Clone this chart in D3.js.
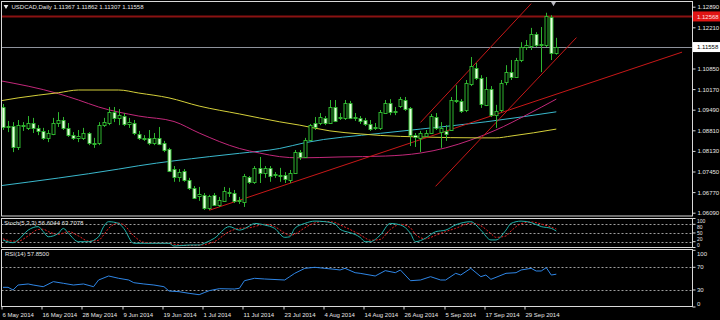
<!DOCTYPE html>
<html><head><meta charset="utf-8">
<script src="https://cdn.jsdelivr.net/npm/d3@7"></script>
<style>
body{margin:0;background:#000;overflow:hidden}
svg{display:block}
text{font-family:"Liberation Sans",Arial,sans-serif;font-size:6px;fill:#e6e6e6}
</style>
</head><body>
<svg id="c" width="720" height="320"></svg>
<script>
// ---------------- data ----------------
const chartTitle = "USDCAD,Daily 1.11367 1.11862 1.11307 1.11558";
const stochTitle = "Stoch(5,3,3) 56.6044 63.7078";
const rsiTitle = "RSI(14) 57.8500";

const dateLabels = ["6 May 2014","16 May 2014","28 May 2014","9 Jun 2014","19 Jun 2014","1 Jul 2014","11 Jul 2014","23 Jul 2014","4 Aug 2014","14 Aug 2014","26 Aug 2014","5 Sep 2014","17 Sep 2014","29 Sep 2014"];
const dateIndex = [0,8,16,24,32,40,48,56,64,72,80,88,96,104];

const open = [1.0958,1.0892,1.0895,1.0826,1.0898,1.0889,1.0905,1.0889,1.0879,1.0856,
1.0869,1.0905,1.0915,1.0889,1.0865,1.0856,1.0856,1.0872,1.0836,1.0839,
1.0898,1.0905,1.0941,1.0922,1.0928,1.0902,1.0905,1.0869,1.0856,1.0856,
1.0839,1.0856,1.0839,1.0819,1.0753,1.0727,1.0747,1.0717,1.0691,1.0664,
1.0668,1.0625,1.0668,1.0635,1.0648,1.0674,1.0674,1.0648,1.0645,1.0727,
1.0711,1.0757,1.0740,1.0757,1.0733,1.0733,1.0733,1.0717,1.0740,1.0809,
1.0793,1.0849,1.0905,1.0905,1.0922,1.0905,1.0958,1.0922,1.0922,1.0971,
1.0922,1.0922,1.0915,1.0902,1.0889,1.0889,1.0938,1.0971,1.0941,1.0961,
1.0981,1.0955,1.0865,1.0856,1.0862,1.0872,1.0925,1.0875,1.0879,1.0882,
1.0981,1.0978,1.0948,1.1034,1.1087,1.1054,1.0965,1.1017,1.0931,1.0948,
1.1040,1.1073,1.1057,1.1113,1.1156,1.1159,1.1199,1.1162,1.1162,1.1255,
1.11367];
const high = [1.0968,1.0912,1.0908,1.0915,1.0908,1.0928,1.0922,1.0898,1.0889,1.0882,
1.0922,1.0941,1.0925,1.0905,1.0875,1.0882,1.0889,1.0875,1.0856,1.0908,
1.0922,1.0958,1.0958,1.0951,1.0938,1.0922,1.0915,1.0879,1.0865,1.0882,
1.0872,1.0892,1.0846,1.0823,1.0763,1.0753,1.0753,1.0724,1.0697,1.0694,
1.0674,1.0668,1.0674,1.0661,1.0694,1.0691,1.0684,1.0661,1.0737,1.0730,
1.0763,1.0793,1.0763,1.0763,1.0743,1.0757,1.0743,1.0750,1.0816,1.0816,
1.0856,1.0902,1.0925,1.0938,1.0928,1.0981,1.0981,1.0938,1.0981,1.0978,
1.0938,1.0928,1.0922,1.0915,1.0905,1.0948,1.0981,1.0984,1.0958,1.0991,
1.0991,1.0958,1.0872,1.0879,1.0882,1.0935,1.0938,1.0908,1.0898,1.0991,
1.1030,1.0984,1.1047,1.1123,1.1103,1.1063,1.1057,1.1027,1.0965,1.1047,
1.1096,1.1113,1.1120,1.1172,1.1179,1.1219,1.1205,1.1222,1.1269,1.1261,
1.11862];
const low = [1.0882,1.0875,1.0809,1.0816,1.0879,1.0882,1.0872,1.0865,1.0849,1.0842,
1.0865,1.0892,1.0882,1.0859,1.0849,1.0842,1.0849,1.0832,1.0823,1.0832,
1.0892,1.0898,1.0908,1.0898,1.0895,1.0889,1.0865,1.0849,1.0846,1.0832,
1.0832,1.0832,1.0809,1.0743,1.0711,1.0711,1.0711,1.0684,1.0654,1.0648,
1.0618,1.0618,1.0631,1.0628,1.0645,1.0661,1.0641,1.0638,1.0628,1.0704,
1.0704,1.0707,1.0724,1.0711,1.0724,1.0711,1.0707,1.0707,1.0737,1.0783,
1.0790,1.0846,1.0882,1.0898,1.0898,1.0902,1.0908,1.0915,1.0915,1.0918,
1.0912,1.0902,1.0895,1.0879,1.0882,1.0882,1.0935,1.0931,1.0931,1.0955,
1.0945,1.0829,1.0826,1.0809,1.0859,1.0869,1.0882,1.0823,1.0846,1.0879,
1.0971,1.0938,1.0941,1.1027,1.1047,1.0955,1.0961,1.0925,1.0889,1.0941,
1.1030,1.1047,1.1054,1.1106,1.1146,1.1146,1.1156,1.1073,1.1156,1.1113,
1.11307];
const close = [1.0892,1.0895,1.0826,1.0898,1.0895,1.0905,1.0889,1.0879,1.0856,1.0872,
1.0905,1.0915,1.0889,1.0865,1.0856,1.0862,1.0872,1.0839,1.0839,1.0898,
1.0908,1.0941,1.0922,1.0931,1.0902,1.0908,1.0872,1.0856,1.0852,1.0839,
1.0856,1.0836,1.0816,1.0747,1.0727,1.0743,1.0717,1.0691,1.0658,1.0671,
1.0625,1.0664,1.0635,1.0651,1.0681,1.0677,1.0648,1.0651,1.0730,1.0711,
1.0757,1.0740,1.0757,1.0730,1.0737,1.0730,1.0720,1.0740,1.0809,1.0793,
1.0849,1.0898,1.0892,1.0925,1.0905,1.0958,1.0912,1.0925,1.0971,1.0922,
1.0925,1.0912,1.0902,1.0885,1.0892,1.0941,1.0971,1.0941,1.0945,1.0984,
1.0951,1.0865,1.0859,1.0872,1.0872,1.0928,1.0889,1.0889,1.0869,1.0981,
1.0978,1.0945,1.1037,1.1093,1.1054,1.0968,1.1017,1.0931,1.0945,1.1037,
1.1073,1.1057,1.1113,1.1156,1.1162,1.1199,1.1162,1.1166,1.1258,1.1136,
1.11558];

const priceTicks = [1.12890,1.12210,1.10850,1.10170,1.09490,1.08810,1.08130,1.07450,1.06770,1.06090];
const lastPrice = 1.11558;
const levelPrice = 1.12568;

const maYellowIdx = [-1,3,7,11,15,23,27,33,39,47,55,59,65,71,75,83,95,98,101,110];
const maYellow = [1.0977,1.0988,1.0997,1.1005,1.1014,1.1014,1.1004,1.0988,1.0961,1.0935,1.0909,1.0898,1.0879,1.0869,1.0864,1.0859,1.0856,1.0856,1.0862,1.0885];
const maPinkIdx = [-1,11,15,19,27,34,39,47,51,55,59,67,76,83,88,93,98,104,110];
const maPink = [1.1046,1.1002,1.0981,1.0958,1.0928,1.0910,1.0872,1.0821,1.0806,1.0794,1.0790,1.0793,1.0796,1.0806,1.0823,1.0849,1.0882,1.0931,1.0984];
const maCyanIdx = [-1,23,27,41,47,55,60,75,83,96,110];
const maCyan = [1.0697,1.0753,1.0764,1.0794,1.0805,1.0821,1.0840,1.0871,1.0885,1.0909,1.0942];

const trendIdxA = [41,83,86];
const trendPriceA = [1.0617,1.0907,1.0696];
const trendIdxB = [135,105,114];
const trendPriceB = [1.1139,1.1299,1.1187];

const stochIdx = [0,2,3,5,7,8,9,11,12,13,15,17,19,20,21,23,24,26,28,31,33,34,37,39,40,42,45,47,49,50,52,54,56,57,58,60,62,64,66,67,69,70,71,72,73,75,77,79,81,82,84,86,88,90,93,95,97,98,100,101,103,105,107,109,110];
const stochMain = [26,16.5,26,60,72,55,37,49,66,49,20,20,37,72,89,83,66,14.5,14.5,14.5,14.5,5,8.6,8.6,14.5,31.7,72,60,74,83,77.6,66,35,37,66,83,91,89,81,63,51,45,35,20,20,43,83,78,49,20,32,54.5,60,78,89,60,26,26,60,83,91,86,72,66,56.6];
const stochSignal = [30,22,22,40,62,63,55,45,50,55,40,22,25,43,66,84,78,40,18,14.5,14.5,11,7,8,10,20,55,66,68,72,80,72,50,42,46,68,85,90,86,78,62,53,44,33,25,28,62,80,68,45,30,42,55,66,84,75,48,35,40,57,82,88,81,70,63.7];
const stochLevels = [80,50,20];
const stochLabels = [100,80,50,20,0];

const rsiIdx = [0,1,2,3,5,6,8,10,12,14,16,18,19,21,23,25,26,28,30,32,33,35,37,39,40,41,43,46,47,48,50,52,56,57,58,60,62,64,66,67,68,70,71,74,76,78,79,81,83,85,87,88,90,91,93,95,96,97,100,102,103,105,106,107,108,109,110];
const rsiVal = [34.7,34.7,30,38.8,40.6,38.8,35.8,44.7,41.8,38.8,40.6,35.8,47.6,54.7,50.6,47.6,42.9,40.6,38.8,35.8,28.2,27,24.1,21.7,25.3,28.8,32.3,31.7,33,46.4,50.6,49.4,47.6,53.5,59.4,68.2,70,68.2,66.4,65.3,68.2,60.5,59.4,54.7,64.1,60.5,65.3,46.4,47.6,53.5,47.6,47.6,59.4,56.4,68.2,53.5,56.4,48.8,59.4,60.5,65.3,68.2,63.5,63.5,69.4,56.4,57.85];
const rsiLevels = [70,30];
const rsiLabels = [100,70,30,0];

// ---------------- layout ----------------
const svg = d3.select("#c");
const L = 1.5, R = 692.5;
const main = {t:1.5, b:216};
const st = {t:218.5, b:247.5};
const rs = {t:249.5, b:306.5};

const x = d3.scaleLinear().domain([0,110]).range([3,556.3]);
const y = d3.scaleLinear().domain([1.06090,1.12890]).range([212.7,6.7]);
const yS = d3.scaleLinear().domain([0,100]).range([247.5,218.5]);
const yR = d3.scaleLinear().domain([0,100]).range([307,250.3]);

svg.append("rect").attr("width",720).attr("height",320).attr("fill","#000");

const defs = svg.append("defs");
function clip(id, p){ defs.append("clipPath").attr("id",id).append("rect")
  .attr("x",L).attr("y",p.t).attr("width",R-L).attr("height",p.b-p.t); }
clip("cm",main); clip("cs",st); clip("cr",rs);

// ---------------- main panel ----------------
const gm = svg.append("g").attr("clip-path","url(#cm)");
const lineGen = (xs, ys) => d3.line().x((d,i)=>x(xs[i])).y(d=>y(d)).curve(d3.curveMonotoneX)(ys);

gm.append("line").attr("x1",L).attr("x2",R).attr("y1",y(levelPrice)).attr("y2",y(levelPrice))
  .attr("stroke","#8a1212").attr("stroke-width",2);
gm.append("line").attr("x1",L).attr("x2",R).attr("y1",Math.round(y(lastPrice))+0.5).attr("y2",Math.round(y(lastPrice))+0.5)
  .attr("stroke","#8e929c").attr("stroke-width",1);

gm.append("path").attr("d",lineGen(maCyanIdx,maCyan)).attr("fill","none").attr("stroke","#3ab8cc").attr("stroke-width",1);
gm.append("path").attr("d",lineGen(maPinkIdx,maPink)).attr("fill","none").attr("stroke","#c2287a").attr("stroke-width",1);
gm.append("path").attr("d",lineGen(maYellowIdx,maYellow)).attr("fill","none").attr("stroke","#d4cf3a").attr("stroke-width",1);

trendIdxA.forEach((a,k)=>{
  gm.append("line").attr("x1",x(a)).attr("y1",y(trendPriceA[k]))
    .attr("x2",x(trendIdxB[k])).attr("y2",y(trendPriceB[k]))
    .attr("stroke","#c81818").attr("stroke-width",1);
});

const green = "#2fb52f";
const bars = open.map((o,i)=>({i,o,h:high[i],l:low[i],c:close[i]}));
const cx = d => Math.round(x(d.i));
gm.selectAll("line.wick").data(bars).join("line").attr("class","wick")
  .attr("x1",d=>cx(d)+0.5).attr("x2",d=>cx(d)+0.5)
  .attr("y1",d=>y(d.h)).attr("y2",d=>y(d.l))
  .attr("stroke",green).attr("stroke-width",1);
gm.selectAll("rect.body").data(bars).join("rect").attr("class","body")
  .attr("x",d=>cx(d)-1).attr("width",3)
  .attr("y",d=>Math.round(y(Math.max(d.o,d.c)))+0.5)
  .attr("height",d=>Math.max(1,Math.round(Math.abs(y(d.o)-y(d.c)))))
  .attr("fill",d=>d.c>=d.o?"#000":"#e4ffdc")
  .attr("stroke",green).attr("stroke-width",1);

svg.append("path").attr("d",d3.symbol().type(d3.symbolTriangle).size(14)())
  .attr("transform","translate(553.5,3) rotate(180)").attr("fill","#b8b8c0");

// ---------------- stochastic ----------------
const gs = svg.append("g").attr("clip-path","url(#cs)");
stochLevels.forEach(v=>{
  gs.append("line").attr("x1",L).attr("x2",R).attr("y1",Math.round(yS(v))+0.5).attr("y2",Math.round(yS(v))+0.5)
    .attr("stroke","#c8c8c8").attr("stroke-width",0.8).attr("stroke-dasharray","2,2");
});
const sLine = (vals) => d3.line().x((d,i)=>x(stochIdx[i])).y(d=>yS(d)).curve(d3.curveMonotoneX)(vals);
gs.append("path").attr("d",sLine(stochSignal)).attr("fill","none").attr("stroke","#e02020").attr("stroke-width",1).attr("stroke-dasharray","2,1.5");
gs.append("path").attr("d",sLine(stochMain)).attr("fill","none").attr("stroke","#20b2aa").attr("stroke-width",1);

// ---------------- RSI ----------------
const gr = svg.append("g").attr("clip-path","url(#cr)");
rsiLevels.forEach(v=>{
  gr.append("line").attr("x1",L).attr("x2",R).attr("y1",Math.round(yR(v))+0.5).attr("y2",Math.round(yR(v))+0.5)
    .attr("stroke","#c8c8c8").attr("stroke-width",0.8).attr("stroke-dasharray","2,2");
});
gr.append("path").attr("d",d3.line().x((d,i)=>x(rsiIdx[i])).y(d=>yR(d))(rsiVal))
  .attr("fill","none").attr("stroke","#2f86e6").attr("stroke-width",1);

// ---------------- frames ----------------
[main,st,rs].forEach(p=>{
  svg.append("rect").attr("x",L).attr("y",p.t).attr("width",R-L).attr("height",p.b-p.t)
    .attr("fill","none").attr("stroke","#d8d8d8").attr("stroke-width",1);
});

// ---------------- price axis ----------------
const ax = svg.append("g").attr("transform",`translate(${R},0)`)
  .call(d3.axisRight(y).tickValues(priceTicks).tickSize(3).tickPadding(2).tickFormat(d3.format(".5f")));
ax.select(".domain").remove();
ax.selectAll("line").attr("stroke","#d8d8d8");
ax.selectAll("text").attr("fill","#e6e6e6").style("font-size","6px");

function priceBox(p, fill, tcol){
  const yy = y(p);
  svg.append("rect").attr("x",R+0.5).attr("y",yy-5).attr("width",720-R).attr("height",10).attr("fill",fill);
  svg.append("text").attr("x",R+4.5).attr("y",yy).attr("dy","0.35em").style("fill",tcol).text(d3.format(".5f")(p));
}
priceBox(levelPrice,"#e01414","#ffe0e0");
priceBox(lastPrice,"#ffffff","#000000");

// stochastic scale: ticks at true levels, labels spread over the panel height so they do not collide
const stochSlot = d3.scalePoint().domain(stochLabels).range([221,245]);
stochLabels.forEach(v=>{
  svg.append("line").attr("x1",R).attr("x2",R+3).attr("y1",yS(v)).attr("y2",yS(v)).attr("stroke","#d8d8d8");
  svg.append("text").attr("x",R+4.5).attr("y",stochSlot(v)).attr("dy","0.35em").style("font-size","5px").text(v);
});

rsiLabels.forEach(v=>{
  const yy = Math.min(304, Math.max(253.5, yR(v)));
  svg.append("line").attr("x1",R).attr("x2",R+3).attr("y1",yR(v)).attr("y2",yR(v)).attr("stroke","#d8d8d8");
  svg.append("text").attr("x",R+4.5).attr("y",yy).attr("dy","0.35em").text(v);
});

// ---------------- date axis ----------------
dateIndex.forEach((di,k)=>{
  const xx = Math.round(x(di)) - 1.5;
  svg.append("line").attr("x1",xx+0.5).attr("x2",xx+0.5).attr("y1",rs.b).attr("y2",rs.b+3).attr("stroke","#d8d8d8");
  svg.append("text").attr("x",xx+1).attr("y",316.5).text(dateLabels[k]);
});

// ---------------- titles ----------------
svg.append("path").attr("d",d3.symbol().type(d3.symbolTriangle).size(10)())
  .attr("transform","translate(6,6.3) rotate(180)").attr("fill","#e6e6e6");
svg.append("text").attr("x",11.5).attr("y",8.6).text(chartTitle);
svg.append("text").attr("x",4).attr("y",225).text(stochTitle);
svg.append("text").attr("x",5).attr("y",256).text(rsiTitle);
</script>
</body></html>
